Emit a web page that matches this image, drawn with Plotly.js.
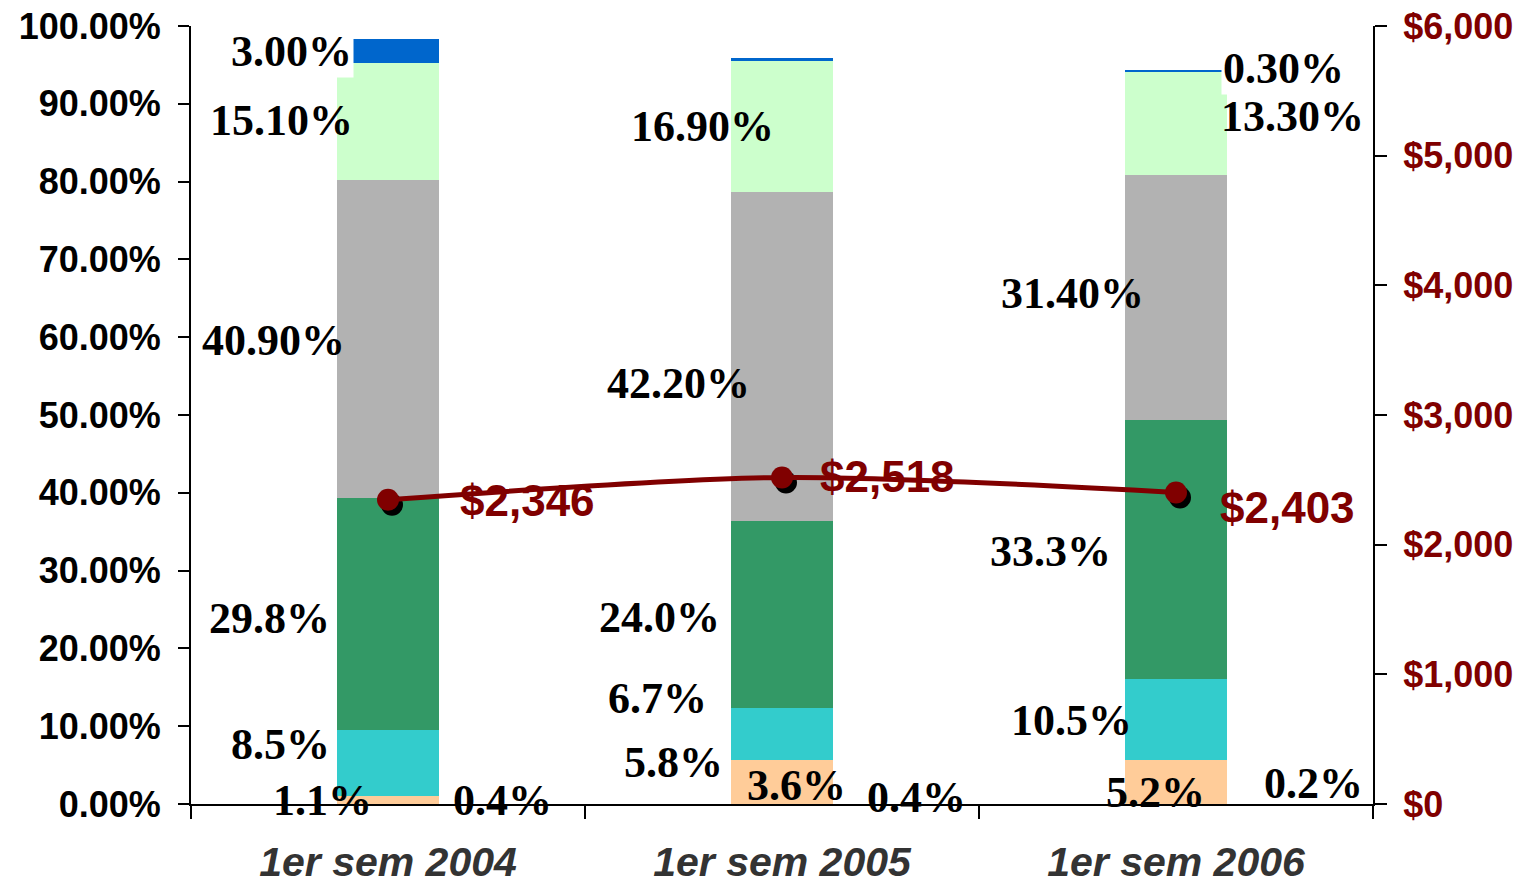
<!DOCTYPE html>
<html>
<head>
<meta charset="utf-8">
<script src="https://cdn.plot.ly/plotly-3.0.1.min.js"></script>
<style>html,body{margin:0;padding:0;background:#fff;}#chart{width:1526px;height:888px;}</style>
</head>
<body>
<div id="chart"></div>
<script>
// ---- data ----
const categories = ['1er sem 2004', '1er sem 2005', '1er sem 2006'];
const peach      = [1.0, 5.7, 5.6];
const cyan       = [8.5, 6.7, 10.5];
const green      = [29.8, 24.0, 33.3];
const gray       = [40.9, 42.2, 31.4];
const lightGreen = [15.1, 16.9, 13.3];
const blue       = [3.0, 0.4, 0.3];
const amount     = [2346, 2518, 2403];

const labels2004 = ['3.00%', '15.10%', '40.90%', '29.8%', '8.5%', '1.1%', '0.4%'];
const labels2005 = ['16.90%', '42.20%', '24.0%', '6.7%', '5.8%', '3.6%', '0.4%'];
const labels2006 = ['0.30%', '13.30%', '31.40%', '33.3%', '10.5%', '5.2%', '0.2%'];

// ---- label placement (pixel x-offset from bar centre, y in % units) ----
const pos2004 = [[-97, 96.7, true], [-107, 87.9], [-115, 59.6], [-119, 23.9], [-108, 7.6], [-66, 0.4], [114, 0.4]];
const pos2005 = [[-80, 87.1], [-104, 54.1], [-123, 24.0], [-125, 13.6], [-109, 5.3], [14, 2.4], [134, 0.9]];
const pos2006 = [[107, 94.6, true], [116, 88.4], [-104, 65.6], [-126, 32.5], [-105, 10.7], [-21, 1.5], [137, 2.6]];
const amountShift = [[139, -1], [105, 1], [111, -15]];

const SANS = 'Liberation Sans, Arial, sans-serif';
const SERIF = 'Liberation Serif, Times New Roman, serif';
const DARKRED = '#800000';

function barTrace(name, vals, color) {
  return {type: 'bar', name: name, x: categories, y: vals, xaxis: 'x', yaxis: 'y',
          marker: {color: color, line: {width: 0}}, hoverinfo: 'skip'};
}

const traces = [
  barTrace('peach', peach, '#FFCC99'),
  barTrace('cyan', cyan, '#33CCCC'),
  barTrace('green', green, '#339966'),
  barTrace('gray', gray, '#B2B2B2'),
  barTrace('lightGreen', lightGreen, '#CCFFCC'),
  barTrace('blue', blue, '#0066CC'),
  // shadow markers (shifted overlay axes)
  {type: 'scatter', mode: 'markers', x: categories, y: amount, xaxis: 'x2', yaxis: 'y2',
   marker: {color: '#000000', size: 22}, hoverinfo: 'skip'},
  // amount line
  {type: 'scatter', mode: 'lines+markers', x: categories, y: amount, xaxis: 'x3', yaxis: 'y3',
   line: {color: DARKRED, width: 5, shape: 'spline', smoothing: 0.8},
   marker: {color: DARKRED, size: 22}, hoverinfo: 'skip'}
];

const annotations = [];
function addLabels(cat, texts, positions) {
  texts.forEach((t, i) => {
    const p = positions[i];
    annotations.push({
      text: t, x: cat, y: p[1], xref: 'x', yref: 'y', xshift: p[0],
      xanchor: 'center', yanchor: 'middle', showarrow: false,
      bgcolor: p[2] ? '#ffffff' : 'rgba(0,0,0,0)', borderpad: 1,
      font: {family: SERIF, size: 44, color: '#000000', weight: 'bold'}
    });
  });
}
addLabels(categories[0], labels2004, pos2004);
addLabels(categories[1], labels2005, pos2005);
addLabels(categories[2], labels2006, pos2006);

amount.forEach((v, i) => {
  annotations.push({
    text: '$' + v.toLocaleString('en-US'), x: categories[i], y: v, xref: 'x3', yref: 'y3',
    xshift: amountShift[i][0], yshift: amountShift[i][1],
    xanchor: 'center', yanchor: 'middle', showarrow: false,
    font: {family: SANS, size: 44, color: DARKRED, weight: 'bold'}
  });
});

const shiftX = 4 / 394;       // ~4 px right
const shiftY = 5 / 778 * 6000; // ~5 px down

const layout = {
  width: 1526, height: 888,
  margin: {l: 191, r: 153, t: 26, b: 84, pad: 0},
  paper_bgcolor: '#ffffff', plot_bgcolor: '#ffffff',
  showlegend: false,
  barmode: 'stack', bargap: 0.741,
  xaxis: {
    type: 'category', range: [-0.5, 2.5],
    showline: true, linecolor: '#000000', linewidth: 2,
    ticks: 'outside', tickson: 'boundaries', ticklen: 13, tickwidth: 2, tickcolor: '#000000',
    ticklabelstandoff: 21,
    tickfont: {family: SANS, size: 41, color: '#333333', weight: 'bold', style: 'italic'},
    showgrid: false, zeroline: false, fixedrange: true
  },
  yaxis: {
    range: [0, 100], dtick: 10, tickformat: '.2f', ticksuffix: '%',
    showline: true, linecolor: '#000000', linewidth: 2, mirror: false,
    ticks: 'outside', ticklen: 11, tickwidth: 2, tickcolor: '#000000',
    ticklabelstandoff: 10,
    tickfont: {family: SANS, size: 36, color: '#000000', weight: 'bold'},
    showgrid: false, zeroline: false, fixedrange: true
  },
  xaxis2: {type: 'category', overlaying: 'x', visible: false, range: [-0.5 - shiftX, 2.5 - shiftX], fixedrange: true},
  yaxis2: {overlaying: 'y', visible: false, range: [shiftY, 6000 + shiftY], fixedrange: true},
  xaxis3: {type: 'category', overlaying: 'x', visible: false, range: [-0.5, 2.5], fixedrange: true},
  yaxis3: {
    overlaying: 'y', side: 'right', anchor: 'x3', range: [0, 6000], dtick: 1000,
    tickprefix: '$', tickformat: ',d',
    showline: true, linecolor: '#000000', linewidth: 2,
    ticks: 'outside', ticklen: 12, tickwidth: 2, tickcolor: '#000000',
    ticklabelstandoff: 9,
    tickfont: {family: SANS, size: 36, color: DARKRED, weight: 'bold'},
    showgrid: false, zeroline: false, fixedrange: true
  },
  annotations: annotations
};

Plotly.newPlot('chart', traces, layout, {displayModeBar: false, staticPlot: true});
</script>
</body>
</html>
